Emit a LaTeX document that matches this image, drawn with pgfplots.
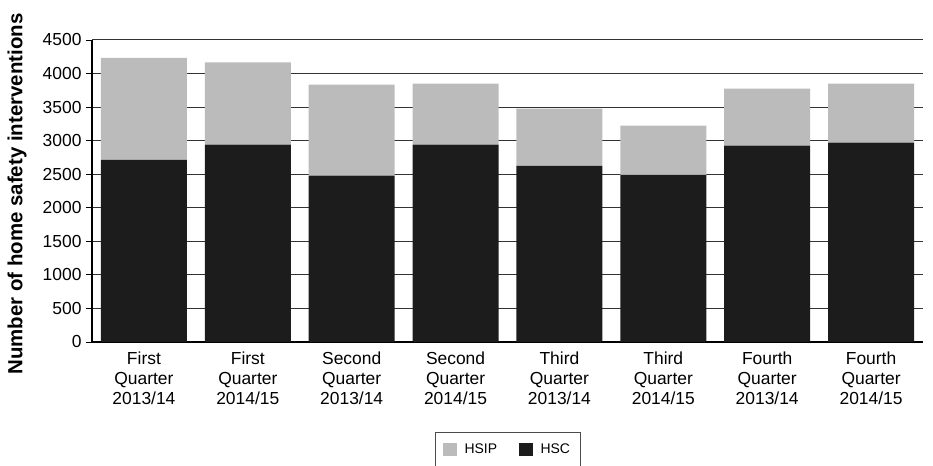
\documentclass[border=0pt]{standalone}
\usepackage{pgfplots}
\pgfplotsset{compat=1.18}
\usepackage{fontspec}
\setmainfont{Liberation Sans}
\definecolor{hsip}{HTML}{BBBBBB}
\definecolor{hsc}{HTML}{1C1C1C}
\begin{document}
\begin{tikzpicture}
\begin{axis}[
  name=ax,
  scale only axis,
  width=831bp, height=302bp,
  ybar stacked,
  bar width=86bp,
  ymin=0, ymax=4500,
  ytick={0,500,...,4500},
  xmin=-0.5, xmax=7.5,
  xtick={0,...,7},
  xticklabels={{First\\Quarter\\2013/14},{First\\Quarter\\2014/15},{Second\\Quarter\\2013/14},{Second\\Quarter\\2014/15},{Third\\Quarter\\2013/14},{Third\\Quarter\\2014/15},{Fourth\\Quarter\\2013/14},{Fourth\\Quarter\\2014/15}},
  xticklabel style={align=center, font=\fontsize{17.5}{20.5}\selectfont, yshift=0bp},
  yticklabel style={font=\fontsize{17.5}{20}\selectfont, xshift=-1bp},
  /pgf/number format/assume math mode=true,
  /pgf/number format/set thousands separator={},
  major x tick style={draw=none},
  ytick style={black, line width=0.8pt},
  tick align=outside,
  major tick length=6bp,
  axis x line*=bottom,
  axis y line*=left,
  axis line style={black, line width=1.2pt},
  ymajorgrids,
  grid style={draw=black!80, line width=1pt},
  ylabel={Number of home safety interventions},
  ylabel style={font=\fontsize{20.5}{23}\selectfont\bfseries, at={(axis description cs:-0.09,0.49)}, anchor=center},
  legend style={at={(0.5,-0.298)}, anchor=north, legend columns=2, draw=black!70, font=\fontsize{14}{16}\selectfont, /tikz/every even column/.append style={column sep=20bp}, /tikz/every odd column/.append style={column sep=6bp}, inner xsep=8bp, inner ysep=10bp},
  legend image code/.code={\fill[#1] (0bp,-6.5bp) rectangle (13.5bp,7bp);},
  clip=false,
]
\addplot[fill=hsc, draw=none, forget plot] coordinates {(0,2715) (1,2940) (2,2480) (3,2940) (4,2625) (5,2490) (6,2925) (7,2970)};
\addplot[fill=hsip, draw=none, forget plot] coordinates {(0,1520) (1,1225) (2,1355) (3,910) (4,853) (5,735) (6,850) (7,880)};
\addlegendimage{fill=hsip, draw=none}
\addlegendentry{HSIP}
\addlegendimage{fill=hsc, draw=none}
\addlegendentry{HSC}
\end{axis}
\pgfresetboundingbox
\path[use as bounding box] ([xshift=-92bp,yshift=-124bp]ax.south west) rectangle ([xshift=10bp,yshift=40bp]ax.north east);
\end{tikzpicture}
\end{document}
